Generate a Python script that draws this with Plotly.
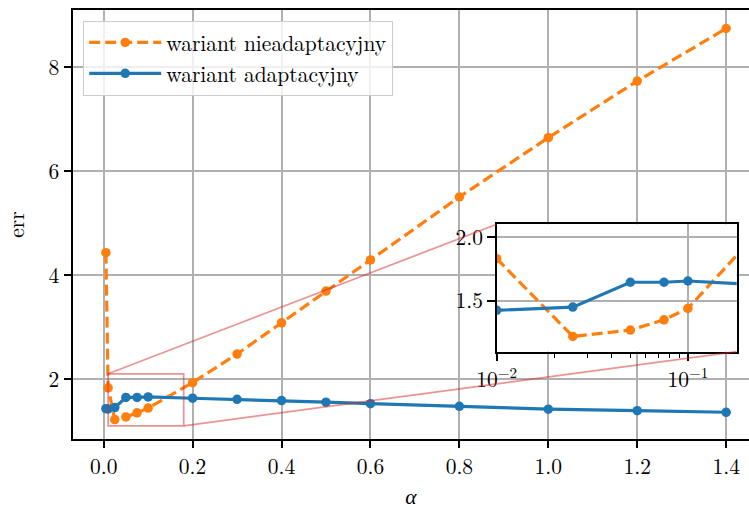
import math
import plotly.graph_objects as go

# ---- data ----
alpha = [0.005, 0.01, 0.025, 0.05, 0.075, 0.1, 0.2, 0.3, 0.4, 0.5, 0.6, 0.8, 1.0, 1.2, 1.4]
err_nonadaptive = [4.43, 1.83, 1.22, 1.27, 1.35, 1.44, 1.93, 2.48, 3.08, 3.69, 4.29, 5.50, 6.64, 7.73, 8.74]
err_adaptive = [1.43, 1.425, 1.45, 1.645, 1.645, 1.655, 1.63, 1.61, 1.585, 1.555, 1.525, 1.475, 1.42, 1.39, 1.36]

label_nonadaptive = "wariant nieadaptacyjny"
label_adaptive = "wariant adaptacyjny"

main_xticks = [0.0, 0.2, 0.4, 0.6, 0.8, 1.0, 1.2, 1.4]
main_yticks = [2, 4, 6, 8]
inset_xticks = [0.01, 0.1]
inset_xticklabels = ["10<sup>\u22122</sup>", "10<sup>\u22121</sup>"]
inset_minor = [0.02, 0.03, 0.04, 0.05, 0.06, 0.07, 0.08, 0.09]
inset_yticks = [1.5, 2.0]

# ---- style ----
ORANGE = "#ff7f0e"
BLUE = "#1f77b4"
ZOOM = "rgba(214,39,40,0.5)"
GRID = "#b0b0b0"
FONT = "Latin Modern Roman, serif"
FS = 21.5

main_xrange = [-0.069, 1.4514]
main_yrange = [0.846, 9.096]
inset_xlim = [0.01, 0.18]
inset_ylim = [1.1, 2.1]
inset_xdom = [0.6268, 0.9818]
inset_ydom = [0.2035, 0.5005]

fig = go.Figure()

for xa, ya, show in (("x", "y", True), ("x2", "y2", False)):
    fig.add_trace(go.Scatter(
        x=alpha, y=err_nonadaptive, name=label_nonadaptive, mode="lines+markers",
        line=dict(color=ORANGE, width=3.2, dash="11px,5px"),
        marker=dict(color=ORANGE, size=9.5), xaxis=xa, yaxis=ya, showlegend=show))
    fig.add_trace(go.Scatter(
        x=alpha, y=err_adaptive, name=label_adaptive, mode="lines+markers",
        line=dict(color=BLUE, width=3.2),
        marker=dict(color=BLUE, size=9.5), xaxis=xa, yaxis=ya, showlegend=show))

axis_common = dict(showline=True, linecolor="black", linewidth=1.7, ticks="outside",
                   ticklen=7.5, tickwidth=1.7, tickcolor="black", showgrid=True,
                   gridcolor=GRID, gridwidth=1.6, zeroline=False,
                   tickfont=dict(family=FONT, size=FS, color="black"))

fig.update_layout(
    width=749, height=510,
    margin=dict(l=73, r=0, t=10, b=71),
    paper_bgcolor="white", plot_bgcolor="white",
    font=dict(family=FONT, size=FS, color="black"),
    xaxis=dict(range=main_xrange, tickvals=main_xticks, tickformat=".1f", mirror=True,
               title=dict(text="<i>\u03b1</i>", standoff=14,
                          font=dict(family=FONT, size=FS, color="black")), **axis_common),
    yaxis=dict(range=main_yrange, tickvals=main_yticks,
               title=dict(text="err", standoff=22,
                          font=dict(family=FONT, size=FS, color="black")), **axis_common),
    xaxis2=dict(type="log", range=[math.log10(v) for v in inset_xlim],
                domain=inset_xdom, anchor="y2", mirror=True,
                tickvals=inset_xticks, ticktext=inset_xticklabels,
                minor=dict(tickvals=inset_minor, ticks="outside", ticklen=4.3,
                           tickwidth=1.4, tickcolor="black", showgrid=False),
                **axis_common),
    yaxis2=dict(range=inset_ylim, domain=inset_ydom, anchor="x2", mirror=True,
                tickvals=inset_yticks, tickformat=".1f", **axis_common),
    legend=dict(x=0.0148, y=0.975, xanchor="left", yanchor="top", itemwidth=72,
                bgcolor="rgba(255,255,255,0.8)", bordercolor="#cccccc", borderwidth=1.2,
                font=dict(family=FONT, size=FS, color="black"), tracegroupgap=0),
)

# zoom indicator rectangle
fig.add_shape(type="rect", xref="x", yref="y", x0=inset_xlim[0], x1=inset_xlim[1],
              y0=inset_ylim[0], y1=inset_ylim[1], line=dict(color=ZOOM, width=1.7),
              layer="above")

# connectors: inset corners expressed in main data coordinates
def px(frac):
    return main_xrange[0] + frac * (main_xrange[1] - main_xrange[0])

def py(frac):
    return main_yrange[0] + frac * (main_yrange[1] - main_yrange[0])

fig.add_shape(type="line", xref="x", yref="y", x0=inset_xlim[0], y0=inset_ylim[1],
              x1=px(inset_xdom[0]), y1=py(inset_ydom[1]),
              line=dict(color=ZOOM, width=1.7), layer="above")
fig.add_shape(type="line", xref="x", yref="y", x0=inset_xlim[1], y0=inset_ylim[0],
              x1=px(inset_xdom[1]), y1=py(inset_ydom[0]),
              line=dict(color=ZOOM, width=1.7), layer="above")

fig.write_html("out.html")
